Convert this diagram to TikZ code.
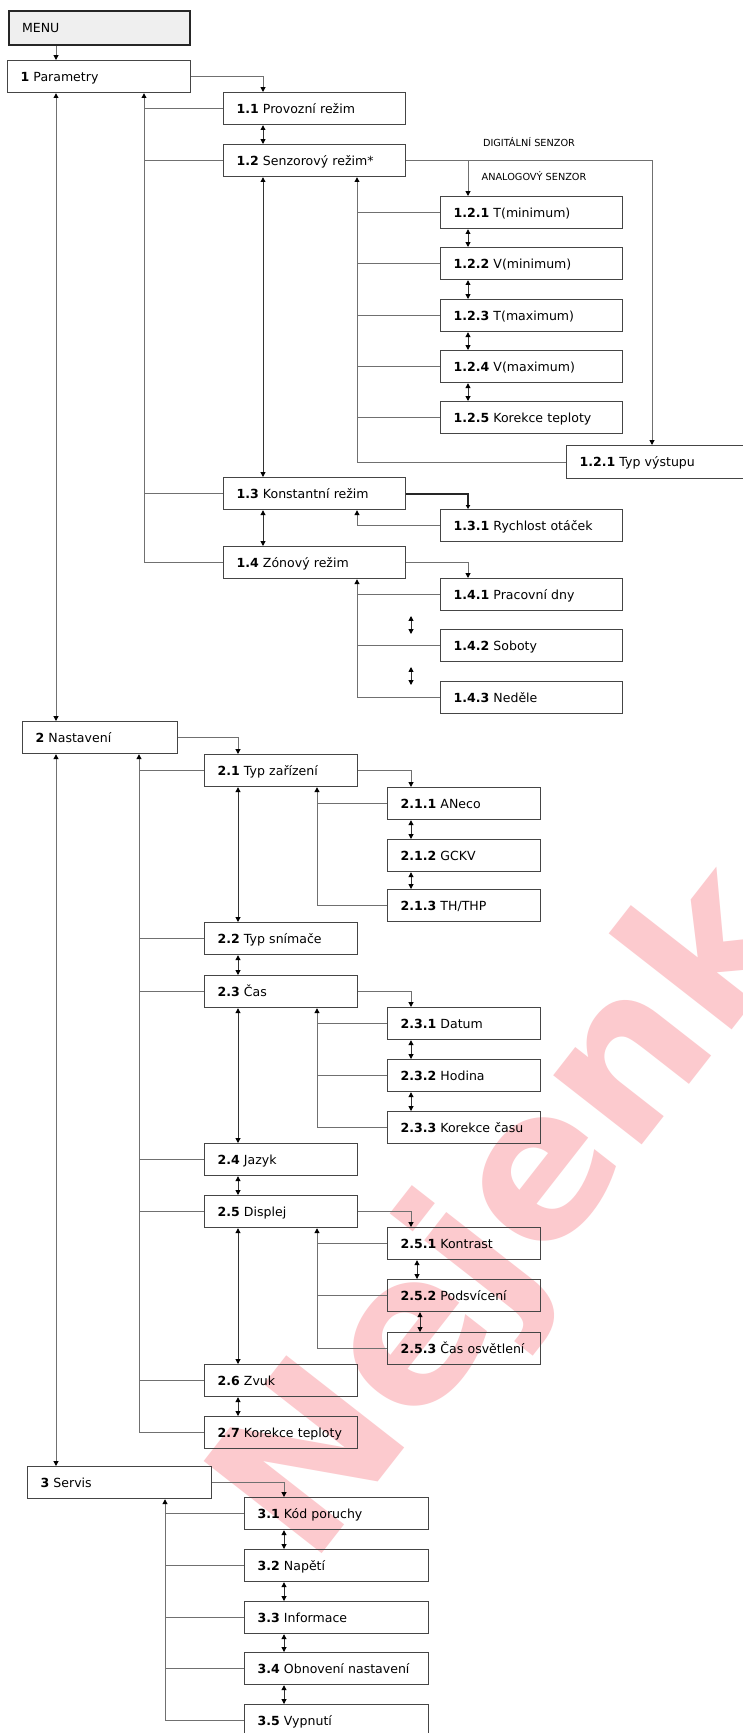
\documentclass[tikz,border=0pt]{standalone}
\usepackage{fontspec}
\setmainfont{DejaVu Sans}
\usetikzlibrary{arrows.meta}
\definecolor{linec}{HTML}{707070}
\definecolor{boxc}{HTML}{454545}
\definecolor{wmc}{HTML}{FCCACE}
\definecolor{menuc}{HTML}{EFEFEF}
\begin{document}
\begin{tikzpicture}[x=0.75pt,y=-0.75pt,
  box/.style={draw=boxc, line width=0.9pt, anchor=north west, inner xsep=0pt, inner ysep=0pt,
    align=left, font=\fontsize{9.4}{11}\selectfont, text height=6.9pt, text depth=0pt, minimum height=24pt,
    execute at begin node={\hspace*{9.75pt}}},
  wM/.style={text width=135.75pt, minimum height=25.5pt},
  wP/.style={text width=137.25pt},
  wA/.style={text width=136.5pt},
  wT/.style={text width=142.5pt, minimum height=24.75pt},
  wN/.style={text width=116.25pt},
  wB/.style={text width=114.75pt},
  wS/.style={text width=138pt},
  lab/.style={font=\fontsize{7.3}{8}\selectfont, inner sep=0pt},
  tip/.tip={Triangle[length=3.6pt,width=3.6pt,color=black]},
  conn/.style={draw=linec, line width=0.75pt},
  arr/.style={conn, -tip},
  rarr/.style={conn, tip-},
  dbl/.style={draw=black!80, line width=0.7pt, tip-tip},
  thickarr/.style={draw=black!85, line width=1.6pt, -{Triangle[length=3pt,width=3.2pt,color=black]}},
  wm/.style={text=wmc, font=\fontsize{154}{154}\selectfont\bfseries, inner sep=0pt, rotate=52}
]
\useasboundingbox (0,0) rectangle (742,1733);
\fill[white] (0,0) rectangle (742,1733);

% watermark
\node[wm] (wmark) at (514,1218) {Nejenk};

% guide coordinates
\coordinate (cL) at (56,0);
\coordinate (c1) at (144,0);
\coordinate (c1d) at (263,0);
\coordinate (c12) at (357,0);
\coordinate (c12d) at (468,0);
\coordinate (c12r) at (652,0);
\coordinate (c2) at (139,0);
\coordinate (c2d) at (238,0);
\coordinate (c21) at (317,0);
\coordinate (c21d) at (411,0);
\coordinate (c25a) at (417,0);
\coordinate (c25b) at (420,0);
\coordinate (c3) at (165,0);
\coordinate (c3d) at (284,0);
\coordinate (f1a) at (411,616);
\coordinate (f1b) at (411,634);
\coordinate (f2a) at (411,667);
\coordinate (f2b) at (411,685);

% boxes
\node[box, wM, fill=menuc, draw=black!85, line width=1.6pt] (menu) at (8,10) {MENU};
\node[box, wP] (P1) at (7,60) {\textbf{1} Parametry};
\node[box, wA] (n11) at (223,92) {\textbf{1.1} Provozní režim};
\node[box, wA] (n12) at (223,144) {\textbf{1.2} Senzorový režim*};
\node[box, wA] (n121) at (440,196) {\textbf{1.2.1} T(minimum)};
\node[box, wA] (n122) at (440,247) {\textbf{1.2.2} V(minimum)};
\node[box, wA] (n123) at (440,299) {\textbf{1.2.3} T(maximum)};
\node[box, wA] (n124) at (440,350) {\textbf{1.2.4} V(maximum)};
\node[box, wA] (n125) at (440,401) {\textbf{1.2.5} Korekce teploty};
\node[box, wT] (ntyp) at (566,445) {\textbf{1.2.1} Typ výstupu};
\node[box, wA] (n13) at (223,477) {\textbf{1.3} Konstantní režim};
\node[box, wA] (n131) at (440,509) {\textbf{1.3.1} Rychlost otáček};
\node[box, wA] (n14) at (223,546) {\textbf{1.4} Zónový režim};
\node[box, wA] (n141) at (440,578) {\textbf{1.4.1} Pracovní dny};
\node[box, wA] (n142) at (440,629) {\textbf{1.4.2} Soboty};
\node[box, wA] (n143) at (440,681) {\textbf{1.4.3} Neděle};

\node[box, wN] (N2) at (22,721) {\textbf{2} Nastavení};
\node[box, wB] (n21) at (204,754) {\textbf{2.1} Typ zařízení};
\node[box, wB] (n211) at (387,787) {\textbf{2.1.1} ANeco};
\node[box, wB] (n212) at (387,839) {\textbf{2.1.2} GCKV};
\node[box, wB] (n213) at (387,889) {\textbf{2.1.3} TH/THP};
\node[box, wB] (n22) at (204,922) {\textbf{2.2} Typ snímače};
\node[box, wB] (n23) at (204,975) {\textbf{2.3} Čas};
\node[box, wB] (n231) at (387,1007) {\textbf{2.3.1} Datum};
\node[box, wB] (n232) at (387,1059) {\textbf{2.3.2} Hodina};
\node[box, wB] (n233) at (387,1111) {\textbf{2.3.3} Korekce času};
\node[box, wB] (n24) at (204,1143) {\textbf{2.4} Jazyk};
\node[box, wB] (n25) at (204,1195) {\textbf{2.5} Displej};
\node[box, wB] (n251) at (387,1227) {\textbf{2.5.1} Kontrast};
\node[box, wB] (n252) at (387,1279) {\textbf{2.5.2} Podsvícení};
\node[box, wB] (n253) at (387,1332) {\textbf{2.5.3} Čas osvětlení};
\node[box, wB] (n26) at (204,1364) {\textbf{2.6} Zvuk};
\node[box, wB] (n27) at (204,1416) {\textbf{2.7} Korekce teploty};

\node[box, wS] (N3) at (27,1466) {\textbf{3} Servis};
\node[box, wS] (n31) at (244,1497) {\textbf{3.1} Kód poruchy};
\node[box, wS] (n32) at (244,1549) {\textbf{3.2} Napětí};
\node[box, wS] (n33) at (244,1601) {\textbf{3.3} Informace};
\node[box, wS] (n34) at (244,1652) {\textbf{3.4} Obnovení nastavení};
\node[box, wS] (n35) at (244,1704) {\textbf{3.5} Vypnutí};

\node[lab] (dig) at (529,142) {DIGITÁLNÍ SENZOR};
\node[lab] (ana) at (534,176) {ANALOGOVÝ SENZOR};

% MENU and long verticals
\draw[arr] (menu.south -| cL) -- (P1.north -| cL);
\draw[conn, tip-tip] (P1.south -| cL) -- (N2.north -| cL);
\draw[conn, tip-tip] (N2.south -| cL) -- (N3.north -| cL);

% section 1
\draw[arr] (P1.east) -| (n11.north -| c1d);
\draw[rarr] (P1.south -| c1) |- (n14.west);
\foreach \n in {n11,n12,n13} \draw[conn] (\n.west) -- (\n.west -| c1);
\draw[dbl] (n11.south -| c1d) -- (n12.north -| c1d);
\draw[dbl] (n12.south -| c1d) -- (n13.north -| c1d);
\draw[dbl] (n13.south -| c1d) -- (n14.north -| c1d);

\draw[arr] (n12.east) -| (ntyp.north -| c12r);
\draw[arr] (n12.east -| c12d) -- (n121.north -| c12d);
\draw[rarr] (n12.south -| c12) |- (ntyp.west);
\foreach \n in {n121,n122,n123,n124,n125} \draw[conn] (\n.west) -- (\n.west -| c12);
\draw[dbl] (n121.south -| c12d) -- (n122.north -| c12d);
\draw[dbl] (n122.south -| c12d) -- (n123.north -| c12d);
\draw[dbl] (n123.south -| c12d) -- (n124.north -| c12d);
\draw[dbl] (n124.south -| c12d) -- (n125.north -| c12d);

\draw[thickarr] (n13.east) -| (n131.north -| c12d);
\draw[arr] (n131.west) -| (n13.south -| c12);

\draw[arr] (n14.east) -| (n141.north -| c12d);
\draw[rarr] (n14.south -| c12) |- (n143.west);
\foreach \n in {n141,n142} \draw[conn] (\n.west) -- (\n.west -| c12);
\draw[dbl] (f1a) -- (f1b);
\draw[dbl] (f2a) -- (f2b);

% section 2
\draw[arr] (N2.east) -| (n21.north -| c2d);
\draw[rarr] (N2.south -| c2) |- (n27.west);
\foreach \n in {n21,n22,n23,n24,n25,n26} \draw[conn] (\n.west) -- (\n.west -| c2);
\draw[dbl] (n21.south -| c2d) -- (n22.north -| c2d);
\draw[dbl] (n22.south -| c2d) -- (n23.north -| c2d);
\draw[dbl] (n23.south -| c2d) -- (n24.north -| c2d);
\draw[dbl] (n24.south -| c2d) -- (n25.north -| c2d);
\draw[dbl] (n25.south -| c2d) -- (n26.north -| c2d);
\draw[dbl] (n26.south -| c2d) -- (n27.north -| c2d);

\draw[arr] (n21.east) -| (n211.north -| c21d);
\draw[rarr] (n21.south -| c21) |- (n213.west);
\draw[conn] (n211.west) -- (n211.west -| c21);
\draw[dbl] (n211.south -| c21d) -- (n212.north -| c21d);
\draw[dbl] (n212.south -| c21d) -- (n213.north -| c21d);

\draw[arr] (n23.east) -| (n231.north -| c21d);
\draw[rarr] (n23.south -| c21) |- (n233.west);
\foreach \n in {n231,n232} \draw[conn] (\n.west) -- (\n.west -| c21);
\draw[dbl] (n231.south -| c21d) -- (n232.north -| c21d);
\draw[dbl] (n232.south -| c21d) -- (n233.north -| c21d);

\draw[arr] (n25.east) -| (n251.north -| c21d);
\draw[rarr] (n25.south -| c21) |- (n253.west);
\foreach \n in {n251,n252} \draw[conn] (\n.west) -- (\n.west -| c21);
\draw[dbl] (n251.south -| c25a) -- (n252.north -| c25a);
\draw[dbl] (n252.south -| c25b) -- (n253.north -| c25b);

% section 3
\draw[arr] (N3.east) -| (n31.north -| c3d);
\draw[rarr] (N3.south -| c3) |- (n35.west);
\foreach \n in {n31,n32,n33,n34} \draw[conn] (\n.west) -- (\n.west -| c3);
\draw[dbl] (n31.south -| c3d) -- (n32.north -| c3d);
\draw[dbl] (n32.south -| c3d) -- (n33.north -| c3d);
\draw[dbl] (n33.south -| c3d) -- (n34.north -| c3d);
\draw[dbl] (n34.south -| c3d) -- (n35.north -| c3d);
\end{tikzpicture}
\end{document}
